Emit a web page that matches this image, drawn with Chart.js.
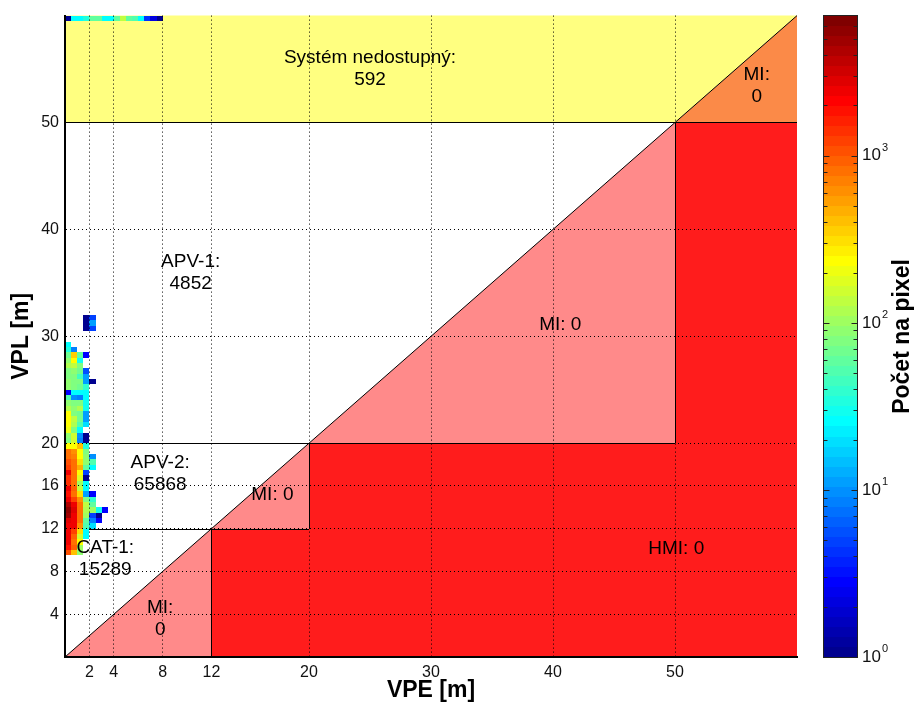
<!DOCTYPE html>
<html>
<head>
<meta charset="utf-8">
<script src="https://cdn.jsdelivr.net/npm/chart.js@4.4.1/dist/chart.umd.min.js"></script>
<style>
  html, body { margin: 0; padding: 0; background: #ffffff; }
  #wrap { width: 919px; height: 711px; position: relative; }
</style>
</head>
<body>
<div id="wrap"><canvas id="stanford" width="919" height="711"></canvas></div>
<script>
// ---------------- data ----------------
const modes = ['CAT-1', 'APV-2', 'APV-1'];
const alertLimits = [12, 20, 50];            // vertical alert limit of each mode [m]
const modeSamples = [15289, 65868, 4852];    // epochs with the mode available
const modeMI = [0, 0, 0];                    // misleading information per mode
const unavailableSamples = 592;
const unavailableMI = 0;
const hmiSamples = 0;
const axisMax = 60;
const xTicks = [2, 4, 8, 12, 20, 30, 40, 50];
const yTicks = [4, 8, 12, 16, 20, 30, 40, 50];
const cbarDecades = [1, 10, 100, 1000];
const cbarMax = 6900;

// 2-D histogram: 0.5 m bins; each row starts at VPE = 0
const binSize = 0.5;
const heatVPL = [
  9.5, 10, 10.5, 11, 11.5,
  12, 12.5, 13, 13.5, 14, 14.5, 15, 15.5, 16, 16.5, 17, 17.5, 18, 18.5, 19, 19.5,
  20, 20.5, 21, 21.5, 22, 22.5, 23, 23.5, 24, 24.5, 25, 25.5, 26, 26.5, 27, 27.5, 28, 28.5, 29,
  30.5, 31, 31.5,
  59.5
];
const heatCounts = [
  [1000, 400, 90],
  [1800, 900, 100],
  [2300, 760, 250],
  [2300, 900, 150, 27],
  [2600, 1300, 300, 27],
  [2300, 2300, 600, 50, 20],
  [3000, 2300, 760, 60, 9, 3],
  [5000, 2300, 760, 100, 5, 1],
  [5600, 3000, 760, 120, 100, 30, 3],
  [4000, 2300, 760, 140, 60],
  [2300, 1300, 600, 80, 40],
  [1800, 760, 300, 12, 3],
  [2300, 900, 140, 27],
  [1400, 800, 100, 27],
  [1500, 800, 180, 1],
  [2300, 760, 250, 5],
  [1300, 760, 450, 60, 27],
  [1100, 760, 300, 90, 50],
  [760, 700, 250, 90, 10],
  [760, 600, 250, 80],
  [250, 250, 400, 35],
  [80, 150, 8, 1],
  [90, 150, 10, 1],
  [200, 80, 25],
  [220, 120, 50, 20],
  [220, 140, 70, 12],
  [220, 80, 70, 12],
  [120, 85, 120, 28],
  [90, 80, 80, 30],
  [50, 10, 8, 27],
  [3, 27, 27, 27],
  [85, 75, 70, 40],
  [90, 80, 75, 12, 1],
  [80, 80, 45, 12],
  [80, 90, 70, 6],
  [110, 140, 80],
  [90, 250, 30],
  [70, 350, 60, 3],
  [35, 9],
  [27],
  [0, 0, 0, 1, 5],
  [0, 0, 0, 1, 12],
  [0, 0, 0, 1, 5],
  [1, 27, 27, 35, 60, 60, 27, 27, 60, 140, 60, 50, 27, 4, 2, 1]
];

// ---------------- styling ----------------
const FONT = '"Liberation Sans", Arial, Helvetica, sans-serif';
const COLORS = {
  unavailable: '#ffff80',
  unavailableMI: '#fb8a48',
  mi: '#ff8a8a',
  hmi: '#ff1c1c',
  line: '#000000',
  text: '#000000'
};

// region captions, anchored in data units (VPE, VPL)
const captions = [
  { lines: ['Systém nedostupný:', String(unavailableSamples)], at: [25, 55] },
  { lines: ['MI:', String(unavailableMI)], at: [56.7, 53.4] },
  { lines: [modes[2] + ':', String(modeSamples[2])], at: [10.3, 35.9] },
  { lines: ['MI: ' + modeMI[2]], at: [40.6, 31.1] },
  { lines: [modes[1] + ':', String(modeSamples[1])], at: [7.8, 17.1] },
  { lines: ['MI: ' + modeMI[1]], at: [17.0, 15.2] },
  { lines: [modes[0] + ':', String(modeSamples[0])], at: [3.3, 9.15] },
  { lines: ['HMI: ' + hmiSamples], at: [50.1, 10.1] },
  { lines: ['MI:', String(modeMI[0])], at: [7.8, 3.6] }
];

// MATLAB-style jet(64) colormap
function jet64(i) {
  const r1 = i + 1;
  const cl = v => Math.max(0, Math.min(1, v));
  const r = cl(Math.min((r1 - 24) / 16, (72 - r1) / 16));
  const g = cl(Math.min((r1 - 8) / 16, (56 - r1) / 16));
  const b = cl(Math.min((r1 + 8) / 16, (40 - r1) / 16));
  return `rgb(${Math.round(r * 255)},${Math.round(g * 255)},${Math.round(b * 255)})`;
}
const logMax = Math.log10(cbarMax);
function countColor(n) {
  const t = Math.log10(n) / logMax;
  return jet64(Math.max(0, Math.min(63, Math.floor(t * 64))));
}

const crisp = v => Math.round(v) + 0.5;

const stanfordLayers = {
  id: 'stanfordLayers',
  beforeDatasetsDraw(chart) {
    const { ctx, scales: { x, y } } = chart;
    const P = (vx, vy) => [x.getPixelForValue(vx), y.getPixelForValue(vy)];
    const fillPoly = (pts, color) => {
      ctx.beginPath();
      pts.forEach(([a, b], k) => {
        const [X, Y] = P(a, b);
        if (k) ctx.lineTo(X, Y); else ctx.moveTo(X, Y);
      });
      ctx.closePath();
      ctx.fillStyle = color;
      ctx.fill();
    };
    const n = alertLimits.length;
    const last = alertLimits[n - 1];
    ctx.save();

    // unavailable band and its MI triangle
    fillPoly([[0, last], [last, last], [axisMax, axisMax], [0, axisMax]], COLORS.unavailable);
    fillPoly([[last, last], [axisMax, axisMax], [axisMax, last]], COLORS.unavailableMI);

    // MI triangles of each mode
    alertLimits.forEach((hi, i) => {
      const lo = i ? alertLimits[i - 1] : 0;
      fillPoly([[lo, lo], [hi, hi], [hi, lo]], COLORS.mi);
    });

    // HMI staircase
    const hmi = [[alertLimits[0], 0], [axisMax, 0], [axisMax, last]];
    for (let i = n - 1; i >= 0; i--) {
      hmi.push([alertLimits[i], alertLimits[i]]);
      if (i > 0) hmi.push([alertLimits[i], alertLimits[i - 1]]);
    }
    fillPoly(hmi, COLORS.hmi);

    // mode boxes
    ctx.strokeStyle = COLORS.line;
    ctx.lineWidth = 1;
    const hLine = (x0, x1, v) => {
      const Y = crisp(y.getPixelForValue(v));
      ctx.beginPath();
      ctx.moveTo(x.getPixelForValue(x0), Y);
      ctx.lineTo(x.getPixelForValue(x1), Y);
      ctx.stroke();
    };
    const vLine = (v, y0, y1) => {
      const X = crisp(x.getPixelForValue(v));
      ctx.beginPath();
      ctx.moveTo(X, y.getPixelForValue(y0));
      ctx.lineTo(X, y.getPixelForValue(y1));
      ctx.stroke();
    };
    alertLimits.forEach((hi, i) => {
      const lo = i ? alertLimits[i - 1] : 0;
      if (i) hLine(0, hi, lo);
      hLine(0, hi, hi);
      vLine(hi, lo, hi);
    });
    hLine(last, axisMax, last);

    // diagonal VPE = VPL
    ctx.beginPath();
    ctx.moveTo(...P(0, 0));
    ctx.lineTo(...P(axisMax, axisMax));
    ctx.stroke();

    // histogram cells
    heatVPL.forEach((v, r) => {
      heatCounts[r].forEach((cnt, c) => {
        if (!cnt) return;
        const x0 = Math.round(x.getPixelForValue(c * binSize));
        const x1 = Math.round(x.getPixelForValue((c + 1) * binSize));
        const y0 = Math.round(y.getPixelForValue(v + binSize));
        const y1 = Math.round(y.getPixelForValue(v));
        ctx.fillStyle = countColor(cnt);
        ctx.fillRect(x0, y0, x1 - x0, y1 - y0);
      });
    });
    ctx.restore();
  },
  afterDraw(chart) {
    const { ctx, scales: { x, y, cb } } = chart;
    ctx.save();

    // captions
    ctx.fillStyle = COLORS.text;
    ctx.font = `19px ${FONT}`;
    ctx.textAlign = 'center';
    ctx.textBaseline = 'middle';
    const lh = 22;
    captions.forEach(cap => {
      const cx = x.getPixelForValue(cap.at[0]);
      const cy = y.getPixelForValue(cap.at[1]);
      const y0 = cy - (cap.lines.length - 1) * lh / 2;
      cap.lines.forEach((t, k) => ctx.fillText(t, cx, y0 + k * lh));
    });

    // colour bar
    const left = 823.5, right = 857.5;
    for (let k = 0; k < 64; k++) {
      const yTop = Math.round(cb.getPixelForValue(Math.pow(10, (k + 1) / 64 * logMax)));
      const yBot = Math.round(cb.getPixelForValue(Math.pow(10, k / 64 * logMax)));
      ctx.fillStyle = jet64(k);
      ctx.fillRect(Math.floor(left), yTop, Math.round(right - left), yBot - yTop);
    }
    ctx.strokeStyle = '#222';
    ctx.lineWidth = 1;
    const top = crisp(cb.getPixelForValue(cbarMax)) - 1;
    const bot = crisp(cb.getPixelForValue(1));
    ctx.strokeRect(left, top, right - left, bot - top);

    // colour bar ticks and labels
    ctx.beginPath();
    cbarDecades.forEach(d => {
      for (let m = 1; m <= 9; m++) {
        const v = d * m;
        if (v > cbarMax) break;
        const Y = crisp(cb.getPixelForValue(v));
        const len = m === 1 ? 6 : 4;
        ctx.moveTo(left, Y); ctx.lineTo(left + len, Y);
        ctx.moveTo(right - len, Y); ctx.lineTo(right, Y);
      }
    });
    ctx.stroke();

    ctx.fillStyle = '#111';
    ctx.textAlign = 'left';
    ctx.textBaseline = 'middle';
    cbarDecades.forEach(d => {
      const Y = cb.getPixelForValue(d);
      ctx.font = `17px ${FONT}`;
      ctx.fillText('10', 862, Y);
      const w = ctx.measureText('10').width;
      ctx.font = `11px ${FONT}`;
      ctx.fillText(String(Math.round(Math.log10(d))), 862 + w + 1, Y - 8);
    });

    // colour bar title
    ctx.save();
    ctx.translate(903, (top + bot) / 2);
    ctx.rotate(-Math.PI / 2);
    ctx.font = `bold 23px ${FONT}`;
    ctx.fillStyle = '#000';
    ctx.textAlign = 'center';
    ctx.textBaseline = 'middle';
    ctx.fillText('Počet na pixel', 0, 0);
    ctx.restore();

    ctx.restore();
  }
};

const tickFont = { family: FONT, size: 16 };
const titleFont = { family: FONT, size: 23, weight: 'bold' };

new Chart(document.getElementById('stanford'), {
  type: 'scatter',
  data: { datasets: [] },
  options: {
    responsive: false,
    animation: false,
    devicePixelRatio: 1,
    events: [],
    layout: { padding: { top: 15, right: 122, bottom: 0, left: 0 } },
    plugins: { legend: { display: false }, tooltip: { enabled: false } },
    scales: {
      x: {
        type: 'linear', position: 'bottom', min: 0, max: axisMax,
        afterBuildTicks: s => { s.ticks = xTicks.map(v => ({ value: v })); },
        afterFit: s => { s.height = 54; },
        ticks: { font: tickFont, color: '#111', padding: 6, autoSkip: false, maxRotation: 0 },
        grid: { color: '#000', lineWidth: 1, drawTicks: false, z: 1 },
        border: { display: true, color: '#000', width: 2, dash: [1, 3], z: 1 },
        title: { display: true, text: 'VPE [m]', font: titleFont, color: '#000', padding: { top: 0, bottom: 7 } }
      },
      y: {
        type: 'linear', position: 'left', min: 0, max: axisMax,
        afterBuildTicks: s => { s.ticks = yTicks.map(v => ({ value: v })); },
        afterFit: s => { s.width = 65; },
        ticks: { font: tickFont, color: '#111', padding: 6, autoSkip: false },
        grid: { color: '#000', lineWidth: 1, drawTicks: false, z: 1 },
        border: { display: true, color: '#000', width: 2, dash: [1, 3], z: 1 },
        title: { display: true, text: 'VPL [m]', font: titleFont, color: '#000', padding: { top: 8, bottom: 0 } }
      },
      cb: {
        type: 'logarithmic', position: 'right', min: 1, max: cbarMax, display: false
      }
    }
  },
  plugins: [stanfordLayers]
});
</script>
</body>
</html>
